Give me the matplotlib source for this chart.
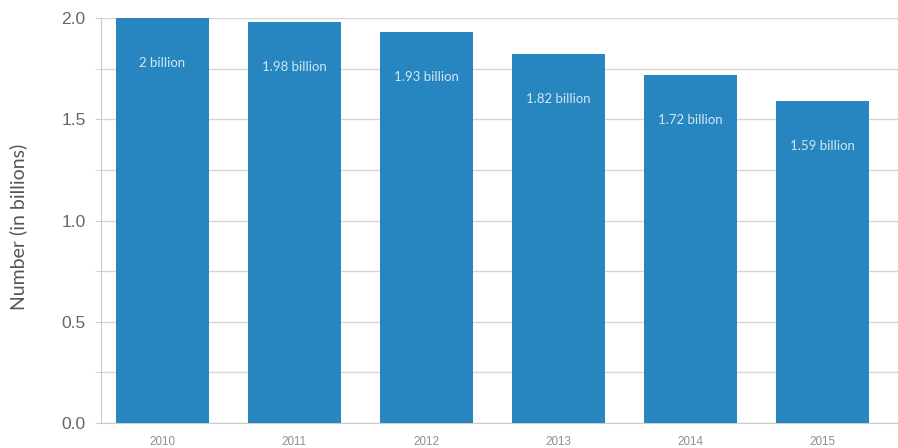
import matplotlib
matplotlib.use("Agg")
import matplotlib.pyplot as plt
from matplotlib.ticker import MultipleLocator, FormatStrFormatter

years = ["2010", "2011", "2012", "2013", "2014", "2015"]
values = [2.0, 1.98, 1.93, 1.82, 1.72, 1.59]
labels = ["2 billion", "1.98 billion", "1.93 billion", "1.82 billion", "1.72 billion", "1.59 billion"]

fig = plt.figure(figsize=(8.98, 4.48), dpi=100)
ax = fig.add_axes([101/898, (448-423)/448, (898-101)/898, (423-18)/448])

x = list(range(len(years)))
ax.bar(x, values, width=0.705, color="#2786bf", zorder=3)
for xi, v, lab in zip(x, values, labels):
    ax.annotate(lab, (xi, v), xytext=(0, -45), textcoords="offset pixels",
                ha="center", va="center", color="#d2e6f3", fontsize=9.5,
                family="Lato", zorder=5)

ax.set_ylim(0, 2.0)
ax.set_xlim(-0.466, 5.576)
ax.yaxis.set_major_locator(MultipleLocator(0.5))
ax.yaxis.set_minor_locator(MultipleLocator(0.25))
ax.grid(axis="y", which="both", color="#d6d6d6", linewidth=1, zorder=0)
ax.set_xticks(x)
ax.set_xticklabels(years, family="Liberation Sans")
ax.tick_params(axis="x", length=0, labelsize=8.4, labelcolor="#8f8f8f", pad=9)
ax.tick_params(axis="y", which="both", length=4, color="#cccccc", labelsize=12.5, labelcolor="#666666", pad=7)
for t in ax.get_yticklabels():
    t.set_family("Liberation Sans")
ax.yaxis.set_major_formatter(FormatStrFormatter("%.1f"))
for s in ["top", "right"]:
    ax.spines[s].set_visible(False)
for s in ["left", "bottom"]:
    ax.spines[s].set_color("#cccccc")
ax.set_ylabel("Number (in billions)", fontsize=14, color="#555555", family="Lato")
ax.yaxis.set_label_coords(-0.093, 0.485)

fig.savefig("out.png", dpi=100)
